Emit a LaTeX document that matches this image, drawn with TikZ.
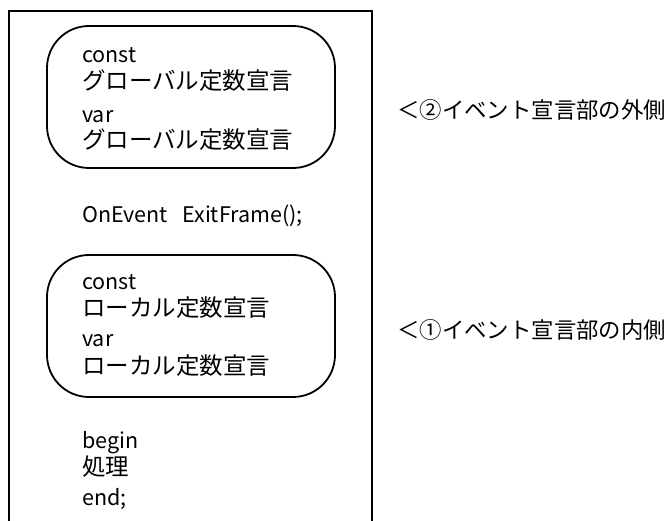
\documentclass[tikz,border=0pt]{standalone}
\usepackage{fontspec}
\setmainfont{Noto Sans CJK JP}
\begin{document}
\begin{tikzpicture}[x=1pt,y=-1pt,
  declbox/.style={draw, line width=1.8pt, rounded corners=42pt,
    minimum width=288pt, minimum height=142pt, inner sep=0pt},
  code/.style={anchor=base west, inner sep=0pt, font=\fontsize{21.5}{24}\selectfont},
  jp/.style={anchor=base west, inner sep=0pt, font=\fontsize{23.5}{27}\selectfont},
  note/.style={anchor=base west, inner sep=0pt, font=\fontsize{22.4}{26}\selectfont}]
  \useasboundingbox (0,0) rectangle (667,521);

  % Outer frame (open at the bottom)
  \draw[line width=2pt] (9,521) -- (9,11) -- (372,11) -- (372,521);

  % Declaration boxes
  \node[declbox] (globalbox) at (191,97) {};
  \node[declbox] (localbox)  at (191,326) {};

  % Global declarations
  \node[code] (gconst) at (82,63)  {const};
  \node[jp]   (gcdecl) at (82,90)  {グローバル定数宣言};
  \node[code] (gvar)   at (82,123) {var};
  \node[jp]   (gvdecl) at (82,149) {グローバル定数宣言};

  % Event header
  \node[code] (event) at (82,223) {OnEvent\ \ \ ExitFrame();};

  % Local declarations
  \node[code] (lconst) at (82,290) {const};
  \node[jp]   (lcdecl) at (82,317) {ローカル定数宣言};
  \node[code] (lvar)   at (82,347) {var};
  \node[jp]   (lvdecl) at (82,375) {ローカル定数宣言};

  % Body
  \node[code] (bbegin) at (82,448) {begin};
  \node[jp]   (body)   at (82,475) {処理};
  \node[code] (bend)   at (82,505) {end;};

  % Notes
  \node[note] (outernote) at (397,119) {＜②イベント宣言部の外側};
  \node[note] (innernote) at (397,339) {＜①イベント宣言部の内側};
\end{tikzpicture}
\end{document}
